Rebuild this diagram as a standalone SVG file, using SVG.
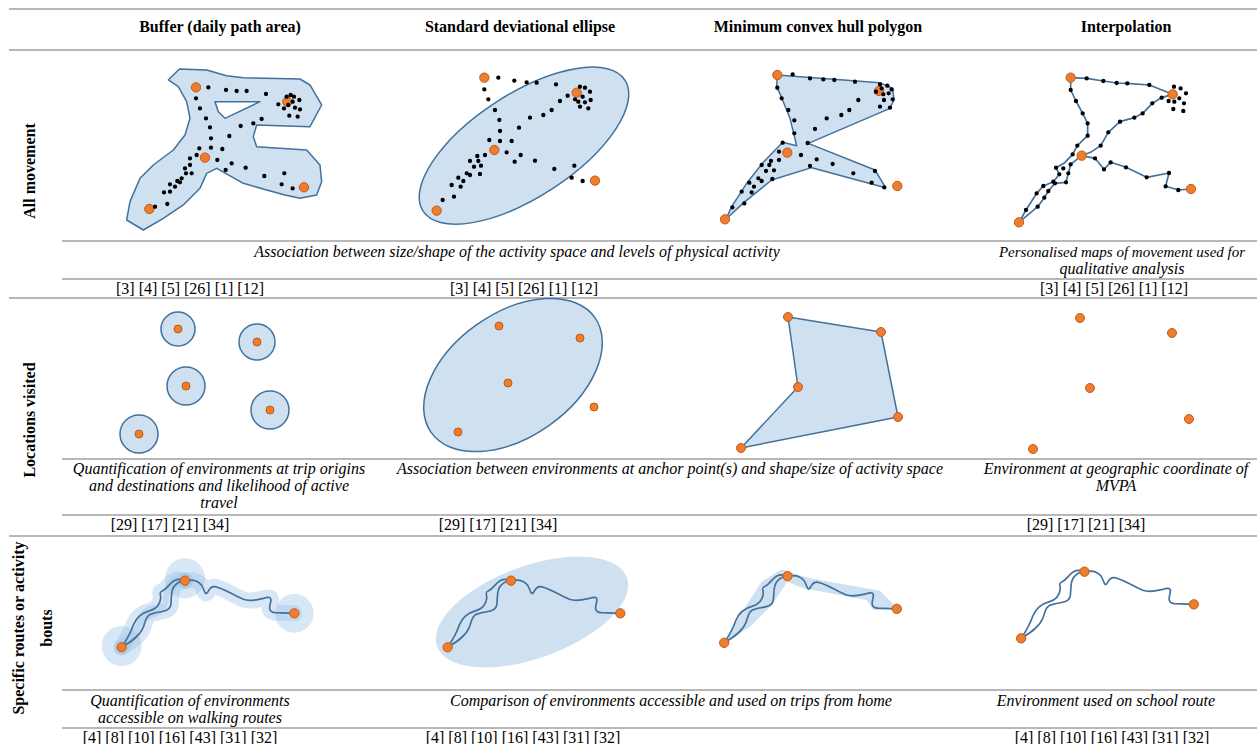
<svg xmlns="http://www.w3.org/2000/svg" width="1257" height="744" viewBox="0 0 1257 744">
<style>
text{font-family:"Liberation Serif","Times New Roman",serif;fill:#000}
.h{font-size:16px;font-weight:bold;text-anchor:middle}
.d{font-size:16px;font-style:italic;text-anchor:middle}
.r{font-size:16px;text-anchor:middle}
.rl{font-size:16px;font-weight:bold;text-anchor:middle}
.rule{stroke:#a0a0a0;stroke-width:1.7;fill:none}
.shape{fill:#cfe0f1;stroke:#41719c;stroke-width:4.5;stroke-linejoin:round}
.dots{fill:none;stroke:#000;stroke-width:13;stroke-linecap:round}
.or{fill:#ed7d31;stroke:#c55a11;stroke-width:3}
.or1{fill:#ed7d31;stroke:#c55a11;stroke-width:1}
.route{fill:none;stroke:#41719c;stroke-width:5;stroke-linejoin:round;stroke-linecap:round}
.halo{fill:none;stroke:#9dc3e6;stroke-opacity:.4;stroke-width:48;stroke-linecap:round;stroke-linejoin:round}
</style>
<defs>
<g id="routes">
<path class="route" d="M95,292 C110,270 122,248 130,225 C140,200 158,188 180,182 C200,176 210,162 212,146 C214,132 204,128 218,122 C232,116 238,100 252,92 C264,86 276,88 285,92"/>
<path class="route" d="M95,292 C122,276 150,258 160,232 C168,210 168,194 190,190 C215,184 238,184 242,166 C246,146 240,120 255,106 C265,96 275,92 285,92"/>
<path class="route" d="M285,92 C305,88 325,92 335,106 C344,120 344,136 352,128 C358,120 360,108 375,110 C400,115 430,135 460,148 C480,156 500,150 520,145 C536,140 546,140 542,156 C538,172 534,186 556,188 L613,190"/>
</g>
<g id="routeOr">
<circle class="or" cx="285" cy="92" r="14"/>
<circle class="or" cx="613" cy="190" r="14"/>
<circle class="or" cx="95" cy="292" r="14"/>
</g>
</defs>

<g id="rules">
<line class="rule" x1="9" y1="9" x2="1257" y2="9"/>
<line class="rule" x1="9" y1="50" x2="1257" y2="50"/>
<line class="rule" x1="62" y1="241" x2="1257" y2="241"/>
<line class="rule" x1="62" y1="279" x2="1257" y2="279"/>
<line class="rule" x1="9" y1="298" x2="1257" y2="298"/>
<line class="rule" x1="62" y1="459" x2="1257" y2="459"/>
<line class="rule" x1="62" y1="515" x2="1257" y2="515"/>
<line class="rule" x1="9" y1="536" x2="1257" y2="536"/>
<line class="rule" x1="62" y1="690" x2="1257" y2="690"/>
<line class="rule" x1="62" y1="728" x2="1257" y2="728"/>
</g>

<g id="headers">
<text class="h" x="220" y="32">Buffer (daily path area)</text>
<text class="h" x="520" y="32">Standard deviational ellipse</text>
<text class="h" x="818" y="32">Minimum convex hull polygon</text>
<text class="h" x="1126" y="32">Interpolation</text>
</g>

<g id="row-labels">
<text class="rl" transform="translate(35,171) rotate(-90)">All movement</text>
<text class="rl" transform="translate(35,420) rotate(-90)">Locations visited</text>
<text class="rl" transform="translate(24,628) rotate(-90)">Specific routes or activity</text>
<text class="rl" transform="translate(52,628) rotate(-90)">bouts</text>
</g>

<!-- Row 1 -->
<g id="r1-buffer" transform="translate(100,55) scale(0.3333)">
<path class="shape" fill-rule="evenodd" d="M205,75 L238,42 L320,45 L380,62 L430,68 L600,72 L630,90 L665,150 L630,215 L470,210 L460,245 L470,275 L620,285 L660,330 L665,380 L650,420 L600,430 L555,420 L500,405 L430,385 L350,340 L320,355 L300,400 L250,450 L190,490 L130,525 L80,495 L90,440 L120,370 L160,330 L220,285 L255,240 L270,190 L260,140 L235,95 Z M345,140 L480,140 L375,190 L355,170 Z"/>
<circle class="or" cx="288" cy="97" r="14"/>
<circle class="or" cx="562" cy="140" r="14"/>
<circle class="or" cx="315" cy="308" r="14"/>
<circle class="or" cx="612" cy="397" r="14"/>
<circle class="or" cx="148" cy="462" r="14"/>
<path class="dots" d="M325,97h0M378,105h0M410,108h0M440,108h0M498,117h0M535,148h0M560,125h0M572,120h0M582,125h0M598,135h0M578,140h0M565,150h0M585,158h0M600,163h0M568,182h0M593,185h0M552,160h0M485,192h0M460,205h0M422,213h0M388,243h0M367,282h0M352,315h0M377,345h0M395,325h0M437,338h0M493,363h0M553,355h0M545,388h0M578,400h0M288,130h0M300,160h0M318,190h0M330,217h0M333,250h0M333,278h0M298,280h0M290,300h0M270,310h0M270,330h0M255,340h0M275,355h0M258,355h0M245,370h0M232,378h0M240,382h0M210,388h0M225,395h0M210,410h0M192,412h0M202,447h0M165,455h0"/>
</g>

<g id="r1-ellipse" transform="translate(400,55) scale(0.3333)">
<ellipse class="shape" cx="372" cy="272" rx="361" ry="155" transform="rotate(-33 372 272)"/>
<circle class="or" cx="253" cy="68" r="14"/>
<circle class="or" cx="530" cy="113" r="14"/>
<circle class="or" cx="283" cy="285" r="14"/>
<circle class="or" cx="585" cy="377" r="14"/>
<circle class="or" cx="110" cy="467" r="14"/>
<path class="dots" d="M295,68h0M343,77h0M380,82h0M410,83h0M468,88h0M253,103h0M265,133h0M285,165h0M298,195h0M300,228h0M268,255h0M300,258h0M335,258h0M357,218h0M390,188h0M430,180h0M455,165h0M480,138h0M503,122h0M525,133h0M540,95h0M555,98h0M570,110h0M548,125h0M572,135h0M535,140h0M555,142h0M540,155h0M565,160h0M320,292h0M362,300h0M344,320h0M405,317h0M463,342h0M523,332h0M515,368h0M548,378h0M255,300h0M232,303h0M210,318h0M235,318h0M222,335h0M243,332h0M200,355h0M210,360h0M240,357h0M175,368h0M190,378h0M155,390h0M182,395h0M128,435h0M162,425h0"/>
</g>

<g id="r1-hull" transform="translate(700,55) scale(0.3333)">
<path class="shape" d="M232,60 L540,83 L578,100 L582,135 L570,160 L325,265 L525,345 L557,398 L335,338 L215,375 L135,440 L78,492 L95,455 L140,385 L190,322 L248,262 L290,272 L270,190 L245,128 L230,95 Z"/>
<circle class="or" cx="232" cy="60" r="14"/>
<circle class="or" cx="537" cy="108" r="14"/>
<circle class="or" cx="262" cy="293" r="14"/>
<circle class="or" cx="592" cy="393" r="14"/>
<circle class="or" cx="75" cy="493" r="14"/>
<path class="dots" d="M278,58h0M330,70h0M370,73h0M403,75h0M465,80h0M540,88h0M545,100h0M562,92h0M575,103h0M550,118h0M566,115h0M578,133h0M552,135h0M540,155h0M570,158h0M528,110h0M475,135h0M448,165h0M424,180h0M380,190h0M345,222h0M323,264h0M232,98h0M245,130h0M265,165h0M283,196h0M283,235h0M248,263h0M237,290h0M303,300h0M350,313h0M398,327h0M460,355h0M525,348h0M515,383h0M553,397h0M330,333h0M213,318h0M237,315h0M208,330h0M185,330h0M198,348h0M222,346h0M175,370h0M185,378h0M217,372h0M148,383h0M162,395h0M155,412h0M125,410h0M133,445h0M97,457h0"/>
</g>

<g id="r1-interp" transform="translate(990,55) scale(0.3333)">
<path class="route" d="M242,68 L290,70 L340,78 L380,84 L412,85 L478,90 L548,118"/>
<path class="route" d="M242,68 L242,105 L258,138 L278,175 L293,205 L293,242 L262,272 L248,298 L222,325 L198,338 L208,358 L190,380 L160,393 L140,415 L108,465 L87,502"/>
<path class="route" d="M275,302 L242,328 L235,355 L228,382 L195,385 L175,408 L163,428 L143,455 L87,502"/>
<path class="route" d="M275,302 L305,290 L332,272 L355,232 L390,200 L433,188 L458,175 L487,145 L515,128 L548,118"/>
<path class="route" d="M275,302 L315,310 L342,343 L362,322 L408,337 L470,367 L537,354 L527,394 L565,405 L603,402"/>
<circle class="or" cx="242" cy="68" r="14"/>
<circle class="or" cx="548" cy="118" r="14"/>
<circle class="or" cx="275" cy="302" r="14"/>
<circle class="or" cx="603" cy="402" r="14"/>
<circle class="or" cx="87" cy="502" r="14"/>
<path class="dots" d="M290,70h0M340,78h0M380,84h0M412,85h0M478,90h0M242,105h0M258,138h0M278,175h0M293,205h0M293,242h0M262,272h0M248,298h0M332,272h0M355,232h0M390,200h0M433,188h0M458,175h0M487,145h0M515,128h0M315,310h0M342,343h0M362,322h0M408,337h0M470,367h0M537,354h0M527,394h0M565,405h0M198,338h0M220,340h0M242,328h0M208,358h0M235,355h0M190,380h0M228,382h0M160,393h0M195,385h0M175,408h0M163,428h0M143,455h0M108,465h0M140,415h0M552,95h0M572,100h0M588,115h0M568,130h0M553,140h0M582,145h0M550,162h0M580,168h0M536,138h0"/>
</g>

<g id="r1-text">
<text class="d" x="517" y="257">Association between size/shape of the activity space and levels of physical activity</text>
<text class="d" x="1122" y="257" style="font-size:15px">Personalised maps of movement used for</text>
<text class="d" x="1122" y="274">qualitative analysis</text>
<text class="r" x="190" y="294">[3] [4] [5] [26] [1] [12]</text>
<text class="r" x="524" y="294">[3] [4] [5] [26] [1] [12]</text>
<text class="r" x="1114" y="294">[3] [4] [5] [26] [1] [12]</text>
</g>

<!-- Row 2 -->
<g id="r2-buffer">
<circle cx="178" cy="329" r="17" fill="#cfe0f1" stroke="#41719c" stroke-width="1.5"/>
<circle cx="257" cy="342" r="18" fill="#cfe0f1" stroke="#41719c" stroke-width="1.5"/>
<circle cx="186" cy="386" r="19" fill="#cfe0f1" stroke="#41719c" stroke-width="1.5"/>
<circle cx="270" cy="410" r="19" fill="#cfe0f1" stroke="#41719c" stroke-width="1.5"/>
<circle cx="139" cy="434" r="19" fill="#cfe0f1" stroke="#41719c" stroke-width="1.5"/>
<circle class="or1" cx="178" cy="329" r="4"/>
<circle class="or1" cx="257" cy="342" r="4"/>
<circle class="or1" cx="186" cy="386" r="4"/>
<circle class="or1" cx="270" cy="410" r="4"/>
<circle class="or1" cx="139" cy="434" r="4"/>
</g>
<g id="r2-ellipse">
<ellipse cx="513" cy="375" rx="100" ry="62" transform="rotate(-35 513 375)" fill="#cfe0f1" stroke="#41719c" stroke-width="1.5"/>
<circle class="or1" cx="499" cy="326" r="4"/>
<circle class="or1" cx="580" cy="338" r="4"/>
<circle class="or1" cx="508" cy="383" r="4"/>
<circle class="or1" cx="594" cy="407" r="4"/>
<circle class="or1" cx="458" cy="432" r="4"/>
</g>
<g id="r2-hull">
<polygon points="788,317 881,332 898,417 741,448 798,387" fill="#cfe0f1" stroke="#41719c" stroke-width="1.5" stroke-linejoin="round"/>
<circle class="or1" cx="788" cy="317" r="4.5"/>
<circle class="or1" cx="881" cy="332" r="4.5"/>
<circle class="or1" cx="798" cy="387" r="4.5"/>
<circle class="or1" cx="898" cy="417" r="4.5"/>
<circle class="or1" cx="741" cy="448" r="4.5"/>
</g>
<g id="r2-interp">
<circle class="or1" cx="1080" cy="318" r="4.5"/>
<circle class="or1" cx="1172" cy="333" r="4.5"/>
<circle class="or1" cx="1090" cy="388" r="4.5"/>
<circle class="or1" cx="1189" cy="419" r="4.5"/>
<circle class="or1" cx="1033" cy="449" r="4.5"/>
</g>
<g id="r2-text">
<text class="d" x="219" y="474">Quantification of environments at trip origins</text>
<text class="d" x="219" y="491">and destinations and likelihood of active</text>
<text class="d" x="219" y="508">travel</text>
<text class="d" x="670" y="474">Association between environments at anchor point(s) and shape/size of activity space</text>
<text class="d" x="1116" y="474">Environment at geographic coordinate of</text>
<text class="d" x="1116" y="491">MVPA</text>
<text class="r" x="170" y="530">[29] [17] [21] [34]</text>
<text class="r" x="498" y="530">[29] [17] [21] [34]</text>
<text class="r" x="1086" y="530">[29] [17] [21] [34]</text>
</g>

<!-- Row 3 -->
<g id="r3-buffer" transform="translate(90,550) scale(0.3333)">
<g class="halo">
<path d="M95,292 C110,270 122,248 130,225 C140,200 158,188 180,182 C200,176 210,162 212,146 C214,132 204,128 218,122 C232,116 238,100 252,92 C264,86 276,88 285,92"/>
<path d="M95,292 C122,276 150,258 160,232 C168,210 168,194 190,190 C215,184 238,184 242,166 C246,146 240,120 255,106 C265,96 275,92 285,92"/>
<path d="M285,92 C305,88 325,92 335,106 C344,120 344,136 352,128 C358,120 360,108 375,110 C400,115 430,135 460,148 C480,156 500,150 520,145 C536,140 546,140 542,156 C538,172 534,186 556,188 L613,190"/>
</g>
<circle cx="285" cy="85" r="60" fill="#9dc3e6" fill-opacity=".4"/>
<circle cx="613" cy="190" r="58" fill="#9dc3e6" fill-opacity=".4"/>
<circle cx="95" cy="288" r="60" fill="#9dc3e6" fill-opacity=".4"/>
<use href="#routes"/>
<use href="#routeOr"/>
</g>

<g id="r3-ellipse">
<ellipse cx="532" cy="612" rx="101" ry="46" transform="rotate(-20 532 612)" fill="#cfe0f1"/>
<g transform="translate(416,550) scale(0.3333)">
<use href="#routes"/>
<use href="#routeOr"/>
</g>
</g>

<g id="r3-hull">
<g transform="translate(700,550) scale(0.3333)">
<polygon points="72,280 130,180 185,95 245,58 275,68 330,85 540,122 595,178 520,180 500,150 310,115 262,95 215,165 150,230" fill="#cfe0f1"/>
</g>
<g transform="translate(692.5,545.5) scale(0.3333)">
<use href="#routes"/>
<use href="#routeOr"/>
</g>
</g>

<g id="r3-interp" transform="translate(989.5,541) scale(0.3333)">
<use href="#routes"/>
<use href="#routeOr"/>
</g>

<g id="r3-text">
<text class="d" x="190" y="706">Quantification of environments</text>
<text class="d" x="190" y="723">accessible on walking routes</text>
<text class="d" x="671" y="706">Comparison of environments accessible and used on trips from home</text>
<text class="d" x="1106" y="706">Environment used on school route</text>
<text class="r" x="180" y="743">[4] [8] [10] [16] [43] [31] [32]</text>
<text class="r" x="523" y="743">[4] [8] [10] [16] [43] [31] [32]</text>
<text class="r" x="1112" y="743">[4] [8] [10] [16] [43] [31] [32]</text>
</g>
</svg>
